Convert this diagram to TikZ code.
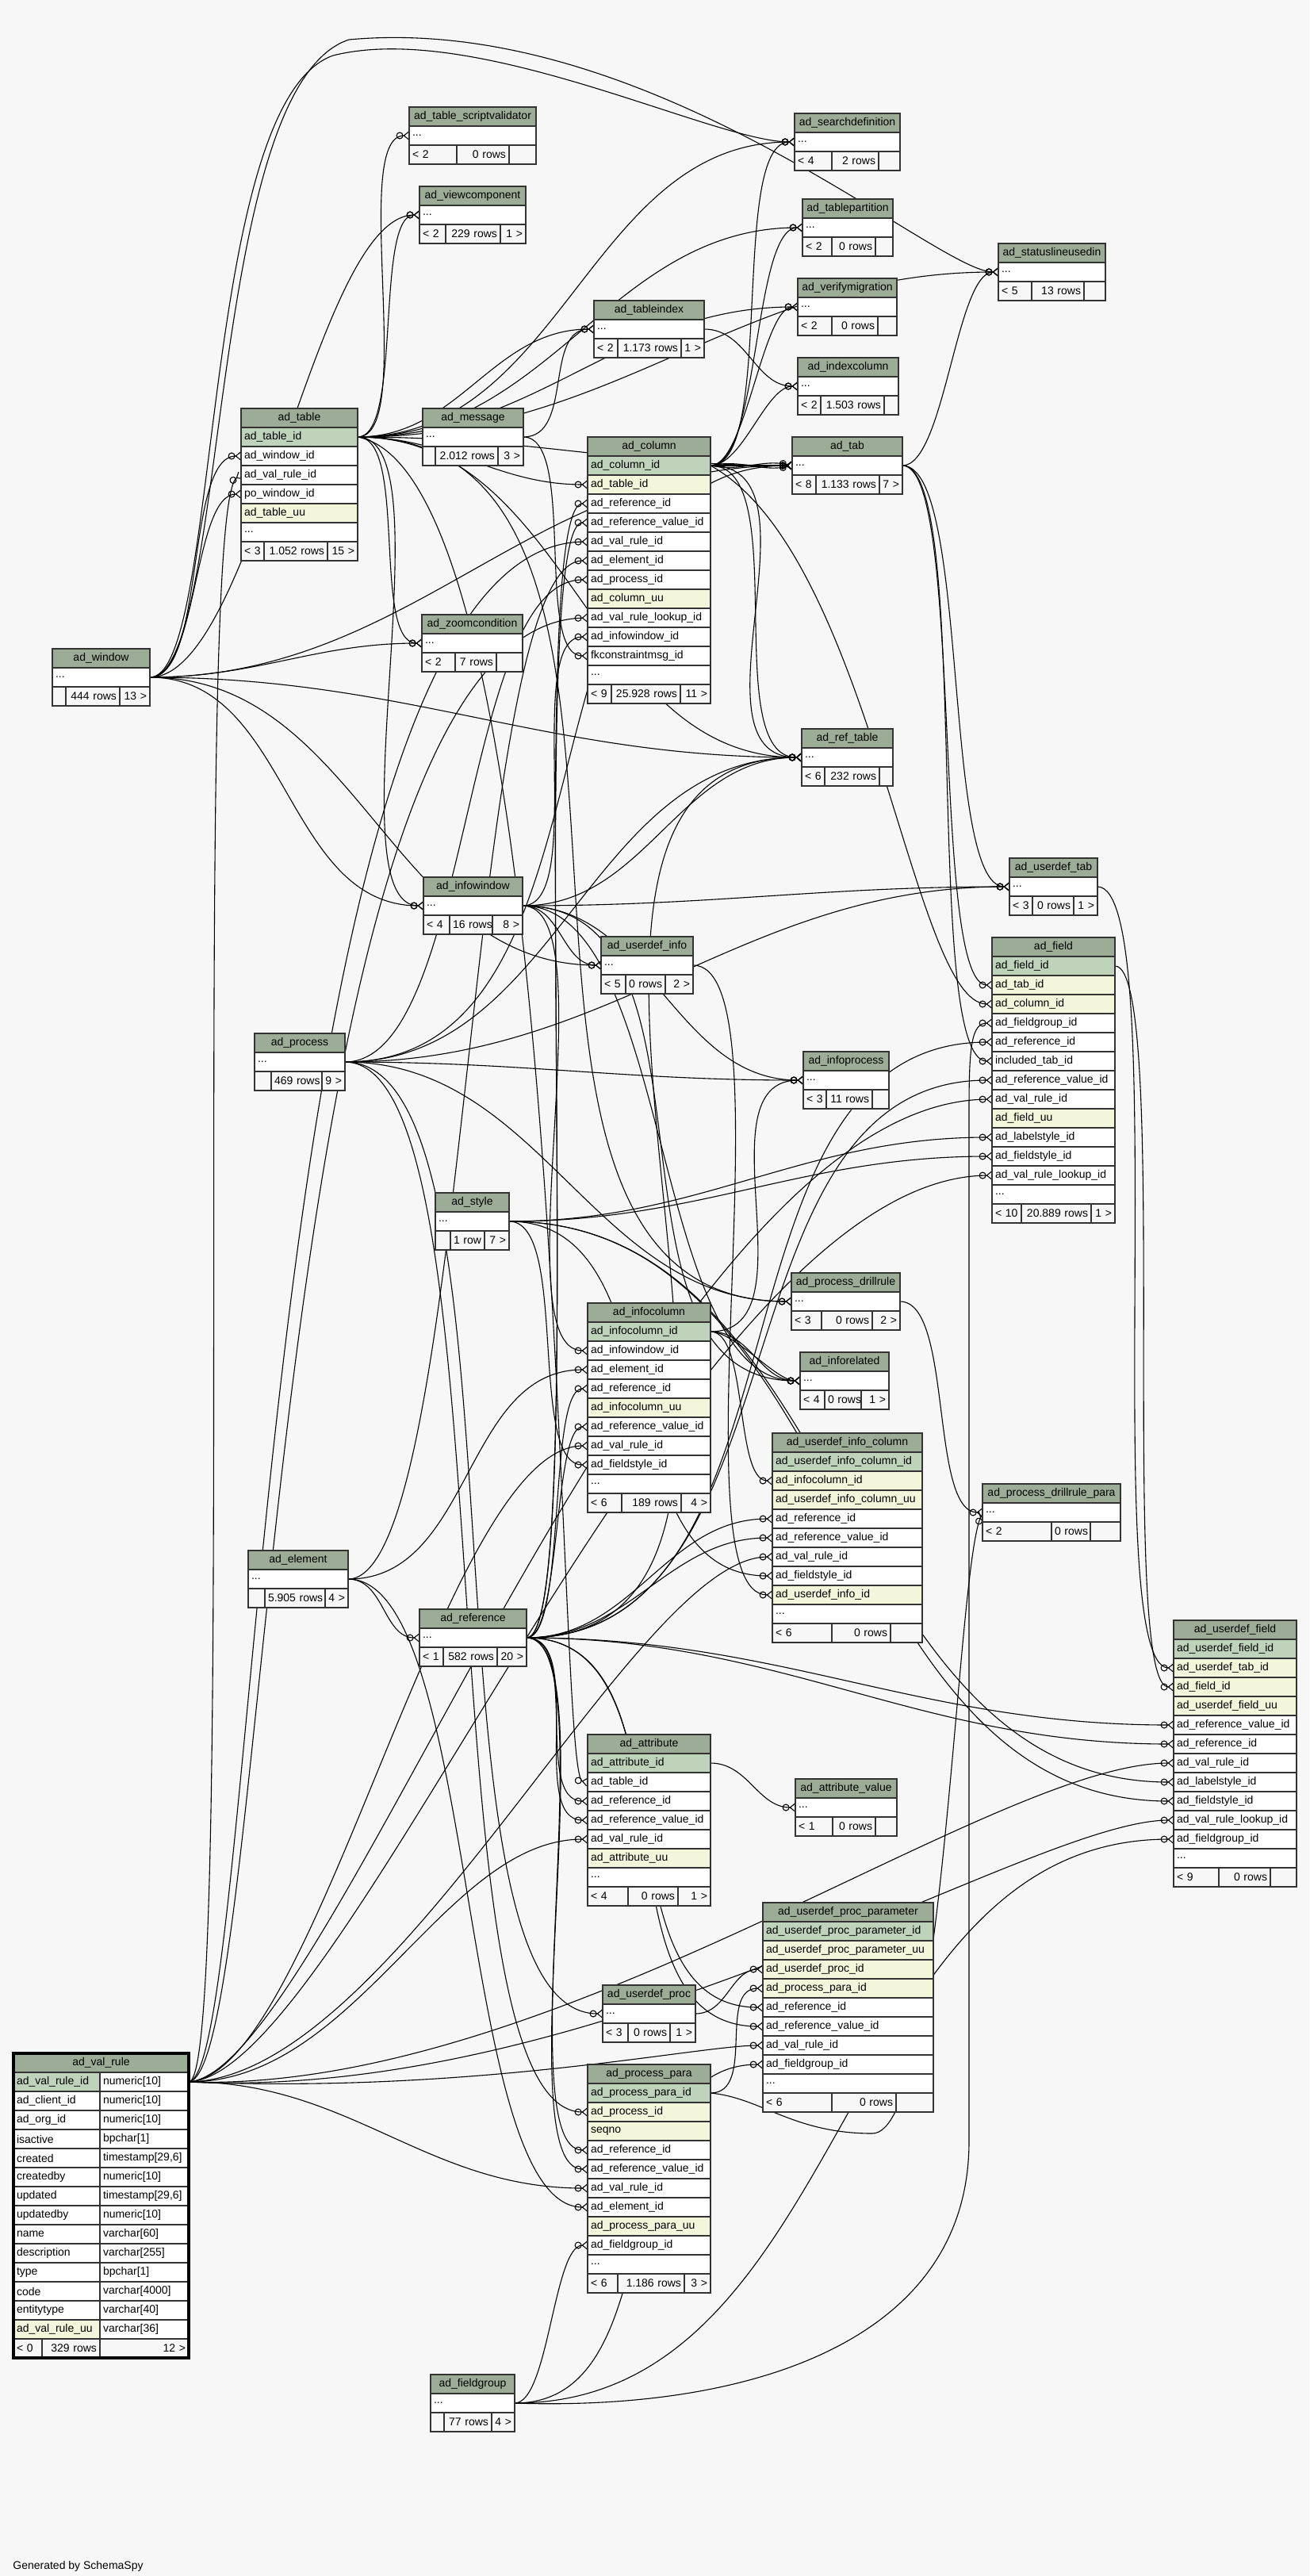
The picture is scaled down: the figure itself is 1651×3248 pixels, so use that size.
\documentclass[tikz,border=0pt]{standalone}
\usepackage{fontspec}
\setmainfont{Liberation Sans}
\usetikzlibrary{positioning,arrows.meta}

\definecolor{bgcol}{HTML}{F7F7F7}
\definecolor{hdrcol}{HTML}{9CAC97}
\definecolor{pkcol}{HTML}{BFD3BB}
\definecolor{ukcol}{HTML}{F4F6DB}
\definecolor{bordercol}{HTML}{333333}

\pgfdeclarelayer{canvas}
\pgfdeclarelayer{links}
\pgfsetlayers{canvas,links,main}

\tikzset{
  tcell/.style={draw=bordercol, line width=0.6pt, minimum height=12pt, inner xsep=2pt, inner ysep=0pt, outer sep=0pt, font=\fontsize{7}{8}\selectfont, align=left},
  hdr/.style={tcell, fill=hdrcol, align=center},
  pkrow/.style={tcell, fill=pkcol},
  ukrow/.style={tcell, fill=ukcol},
  plainrow/.style={tcell, fill=white},
  footl/.style={tcell, fill=bgcol, text width=#1},
  footr/.style={tcell, fill=bgcol, align=right, text width=#1},
  fk/.style={draw=black, line width=0.55pt, -{Circle[open,length=4.5pt,width=4.5pt] Straight Barb[reversed,length=3pt,width=5pt]}},
  link/.style={out=0, in=180, looseness=#1},
  link/.default=1,
}

\begin{document}
\begin{tikzpicture}[x=0.5pt, y=-0.5pt]
\useasboundingbox (0,0) rectangle (1651,3248);
\begin{pgfonlayer}{canvas}
\fill[bgcol] (0,0) rectangle (1651,3248);
\end{pgfonlayer}

% ad_table_scriptvalidator
\begin{scope}[every node/.append style={text width=76pt}]
\node[hdr, anchor=north west] (tsv) at (516,135) {ad\_table\_scriptvalidator};
\node[plainrow, below=0pt of tsv] (tsv-dots) {...};
\node[footl=26pt, anchor=north west] (tsv-f1) at (tsv-dots.south west) {< 2};
\node[footr=29pt, right=0pt of tsv-f1] (tsv-f2) {0~rows};
\node[footr=13pt, right=0pt of tsv-f2] (tsv-f3) {};
\end{scope}

% ad_viewcomponent
\begin{scope}[every node/.append style={text width=63pt}]
\node[hdr, anchor=north west] (vc) at (529,235) {ad\_viewcomponent};
\node[plainrow, below=0pt of vc] (vc-dots) {...};
\node[footl=12.5pt, anchor=north west] (vc-f1) at (vc-dots.south west) {< 2};
\node[footr=30.5pt, right=0pt of vc-f1] (vc-f2) {229~rows};
\node[footr=12pt, right=0pt of vc-f2] (vc-f3) {1 >};
\end{scope}

% ad_searchdefinition
\begin{scope}[every node/.append style={text width=62.5pt}]
\node[hdr, anchor=north west] (sd) at (1002,143) {ad\_searchdefinition};
\node[plainrow, below=0pt of sd] (sd-dots) {...};
\node[footl=19.5pt, anchor=north west] (sd-f1) at (sd-dots.south west) {< 4};
\node[footr=25.5pt, right=0pt of sd-f1] (sd-f2) {2~rows};
\node[footr=9.5pt, right=0pt of sd-f2] (sd-f3) {};
\end{scope}

% ad_tablepartition
\begin{scope}[every node/.append style={text width=53pt}]
\node[hdr, anchor=north west] (tp) at (1012,251) {ad\_tablepartition};
\node[plainrow, below=0pt of tp] (tp-dots) {...};
\node[footl=14.5pt, anchor=north west] (tp-f1) at (tp-dots.south west) {< 2};
\node[footr=23.5pt, right=0pt of tp-f1] (tp-f2) {0~rows};
\node[footr=7pt, right=0pt of tp-f2] (tp-f3) {};
\end{scope}

% ad_statuslineusedin
\begin{scope}[every node/.append style={text width=63.5pt}]
\node[hdr, anchor=north west] (slu) at (1259,307) {ad\_statuslineusedin};
\node[plainrow, below=0pt of slu] (slu-dots) {...};
\node[footl=17pt, anchor=north west] (slu-f1) at (slu-dots.south west) {< 5};
\node[footr=29pt, right=0pt of slu-f1] (slu-f2) {13~rows};
\node[footr=9.5pt, right=0pt of slu-f2] (slu-f3) {};
\end{scope}

% ad_verifymigration
\begin{scope}[every node/.append style={text width=58.5pt}]
\node[hdr, anchor=north west] (vm) at (1006,351) {ad\_verifymigration};
\node[plainrow, below=0pt of vm] (vm-dots) {...};
\node[footl=17.5pt, anchor=north west] (vm-f1) at (vm-dots.south west) {< 2};
\node[footr=25pt, right=0pt of vm-f1] (vm-f2) {0~rows};
\node[footr=8pt, right=0pt of vm-f2] (vm-f3) {};
\end{scope}

% ad_tableindex
\begin{scope}[every node/.append style={text width=65.5pt}]
\node[hdr, anchor=north west] (ti) at (749,379) {ad\_tableindex};
\node[plainrow, below=0pt of ti] (ti-dots) {...};
\node[footl=11pt, anchor=north west] (ti-f1) at (ti-dots.south west) {< 2};
\node[footr=36pt, right=0pt of ti-f1] (ti-f2) {1.173~rows};
\node[footr=10.5pt, right=0pt of ti-f2] (ti-f3) {1 >};
\end{scope}

% ad_indexcolumn
\begin{scope}[every node/.append style={text width=59.5pt}]
\node[hdr, anchor=north west] (ixc) at (1006,451) {ad\_indexcolumn};
\node[plainrow, below=0pt of ixc] (ixc-dots) {...};
\node[footl=10.5pt, anchor=north west] (ixc-f1) at (ixc-dots.south west) {< 2};
\node[footr=36pt, right=0pt of ixc-f1] (ixc-f2) {1.503~rows};
\node[footr=5pt, right=0pt of ixc-f2] (ixc-f3) {};
\end{scope}

% ad_message
\begin{scope}[every node/.append style={text width=59.5pt}]
\node[hdr, anchor=north west] (msg) at (533,515) {ad\_message};
\node[plainrow, below=0pt of msg] (msg-dots) {...};
\node[footl=4pt, anchor=north west] (msg-f1) at (msg-dots.south west) {};
\node[footr=35.5pt, right=0pt of msg-f1] (msg-f2) {2.012~rows};
\node[footr=12pt, right=0pt of msg-f2] (msg-f3) {3 >};
\end{scope}

% ad_tab
\begin{scope}[every node/.append style={text width=65.5pt}]
\node[hdr, anchor=north west] (tab) at (999,551) {ad\_tab};
\node[plainrow, below=0pt of tab] (tab-dots) {...};
\node[footl=11pt, anchor=north west] (tab-f1) at (tab-dots.south west) {< 8};
\node[footr=36pt, right=0pt of tab-f1] (tab-f2) {1.133~rows};
\node[footr=10.5pt, right=0pt of tab-f2] (tab-f3) {7 >};
\end{scope}

% ad_table
\begin{scope}[every node/.append style={text width=69.5pt}]
\node[hdr, anchor=north west] (tbl) at (304,515) {ad\_table};
\node[pkrow, below=0pt of tbl] (tbl-id) {ad\_table\_id};
\node[plainrow, below=0pt of tbl-id] (tbl-window) {ad\_window\_id};
\node[plainrow, below=0pt of tbl-window] (tbl-valrule) {ad\_val\_rule\_id};
\node[plainrow, below=0pt of tbl-valrule] (tbl-powindow) {po\_window\_id};
\node[ukrow, below=0pt of tbl-powindow] (tbl-uu) {ad\_table\_uu};
\node[plainrow, below=0pt of tbl-uu] (tbl-dots) {...};
\node[footl=10.5pt, anchor=north west] (tbl-f1) at (tbl-dots.south west) {< 3};
\node[footr=36pt, right=0pt of tbl-f1] (tbl-f2) {1.052~rows};
\node[footr=15pt, right=0pt of tbl-f2] (tbl-f3) {15 >};
\end{scope}

% ad_window
\begin{scope}[every node/.append style={text width=57.5pt}]
\node[hdr, anchor=north west] (win) at (66,818) {ad\_window};
\node[plainrow, below=0pt of win] (win-dots) {...};
\node[footl=4.5pt, anchor=north west] (win-f1) at (win-dots.south west) {};
\node[footr=30pt, right=0pt of win-f1] (win-f2) {444~rows};
\node[footr=15pt, right=0pt of win-f2] (win-f3) {13 >};
\end{scope}

% ad_column
\begin{scope}[every node/.append style={text width=73.5pt}]
\node[hdr, anchor=north west] (col) at (741,551) {ad\_column};
\node[pkrow, below=0pt of col] (col-id) {ad\_column\_id};
\node[ukrow, below=0pt of col-id] (col-table) {ad\_table\_id};
\node[plainrow, below=0pt of col-table] (col-reference) {ad\_reference\_id};
\node[plainrow, below=0pt of col-reference] (col-refvalue) {ad\_reference\_value\_id};
\node[plainrow, below=0pt of col-refvalue] (col-valrule) {ad\_val\_rule\_id};
\node[plainrow, below=0pt of col-valrule] (col-element) {ad\_element\_id};
\node[plainrow, below=0pt of col-element] (col-process) {ad\_process\_id};
\node[ukrow, below=0pt of col-process] (col-uu) {ad\_column\_uu};
\node[plainrow, below=0pt of col-uu] (col-vrlookup) {ad\_val\_rule\_lookup\_id};
\node[plainrow, below=0pt of col-vrlookup] (col-infowindow) {ad\_infowindow\_id};
\node[plainrow, below=0pt of col-infowindow] (col-fkmsg) {fkconstraintmsg\_id};
\node[plainrow, below=0pt of col-fkmsg] (col-dots) {...};
\node[footl=11pt, anchor=north west] (col-f1) at (col-dots.south west) {< 9};
\node[footr=39.5pt, right=0pt of col-f1] (col-f2) {25.928~rows};
\node[footr=15pt, right=0pt of col-f2] (col-f3) {11 >};
\end{scope}

% ad_zoomcondition
\begin{scope}[every node/.append style={text width=59.5pt}]
\node[hdr, anchor=north west] (zc) at (532,775) {ad\_zoomcondition};
\node[plainrow, below=0pt of zc] (zc-dots) {...};
\node[footl=17pt, anchor=north west] (zc-f1) at (zc-dots.south west) {< 2};
\node[footr=22pt, right=0pt of zc-f1] (zc-f2) {7~rows};
\node[footr=12.5pt, right=0pt of zc-f2] (zc-f3) {};
\end{scope}

% ad_ref_table
\begin{scope}[every node/.append style={text width=53.5pt}]
\node[hdr, anchor=north west] (rt) at (1011,919) {ad\_ref\_table};
\node[plainrow, below=0pt of rt] (rt-dots) {...};
\node[footl=10.5pt, anchor=north west] (rt-f1) at (rt-dots.south west) {< 6};
\node[footr=30.5pt, right=0pt of rt-f1] (rt-f2) {232~rows};
\node[footr=4.5pt, right=0pt of rt-f2] (rt-f3) {};
\end{scope}

% ad_userdef_tab
\begin{scope}[every node/.append style={text width=51.5pt}]
\node[hdr, anchor=north west] (udt) at (1273,1082) {ad\_userdef\_tab};
\node[plainrow, below=0pt of udt] (udt-dots) {...};
\node[footl=10.5pt, anchor=north west] (udt-f1) at (udt-dots.south west) {< 3};
\node[footr=22pt, right=0pt of udt-f1] (udt-f2) {0~rows};
\node[footr=11pt, right=0pt of udt-f2] (udt-f3) {1 >};
\end{scope}

% ad_infowindow
\begin{scope}[every node/.append style={text width=58.5pt}]
\node[hdr, anchor=north west] (iw) at (534,1106) {ad\_infowindow};
\node[plainrow, below=0pt of iw] (iw-dots) {...};
\node[footl=12.5pt, anchor=north west] (iw-f1) at (iw-dots.south west) {< 4};
\node[footr=23pt, right=0pt of iw-f1] (iw-f2) {16~rows};
\node[footr=15pt, right=0pt of iw-f2] (iw-f3) {8 >};
\end{scope}

% ad_userdef_info
\begin{scope}[every node/.append style={text width=54pt}]
\node[hdr, anchor=north west] (udi) at (758,1181) {ad\_userdef\_info};
\node[plainrow, below=0pt of udi] (udi-dots) {...};
\node[footl=11.5pt, anchor=north west] (udi-f1) at (udi-dots.south west) {< 5};
\node[footr=21pt, right=0pt of udi-f1] (udi-f2) {0~rows};
\node[footr=13.5pt, right=0pt of udi-f2] (udi-f3) {2 >};
\end{scope}

% ad_field
\begin{scope}[every node/.append style={text width=73.5pt}]
\node[hdr, anchor=north west] (fld) at (1251,1182) {ad\_field};
\node[pkrow, below=0pt of fld] (fld-id) {ad\_field\_id};
\node[ukrow, below=0pt of fld-id] (fld-tab) {ad\_tab\_id};
\node[ukrow, below=0pt of fld-tab] (fld-column) {ad\_column\_id};
\node[plainrow, below=0pt of fld-column] (fld-fieldgroup) {ad\_fieldgroup\_id};
\node[plainrow, below=0pt of fld-fieldgroup] (fld-reference) {ad\_reference\_id};
\node[plainrow, below=0pt of fld-reference] (fld-included) {included\_tab\_id};
\node[plainrow, below=0pt of fld-included] (fld-refvalue) {ad\_reference\_value\_id};
\node[plainrow, below=0pt of fld-refvalue] (fld-valrule) {ad\_val\_rule\_id};
\node[ukrow, below=0pt of fld-valrule] (fld-uu) {ad\_field\_uu};
\node[plainrow, below=0pt of fld-uu] (fld-labelstyle) {ad\_labelstyle\_id};
\node[plainrow, below=0pt of fld-labelstyle] (fld-fieldstyle) {ad\_fieldstyle\_id};
\node[plainrow, below=0pt of fld-fieldstyle] (fld-vrlookup) {ad\_val\_rule\_lookup\_id};
\node[plainrow, below=0pt of fld-vrlookup] (fld-dots) {...};
\node[footl=14.5pt, anchor=north west] (fld-f1) at (fld-dots.south west) {< 10};
\node[footr=40pt, right=0pt of fld-f1] (fld-f2) {20.889~rows};
\node[footr=11pt, right=0pt of fld-f2] (fld-f3) {1 >};
\end{scope}

% ad_process
\begin{scope}[every node/.append style={text width=53pt}]
\node[hdr, anchor=north west] (prc) at (321,1303) {ad\_process};
\node[plainrow, below=0pt of prc] (prc-dots) {...};
\node[footl=6.5pt, anchor=north west] (prc-f1) at (prc-dots.south west) {};
\node[footr=28pt, right=0pt of prc-f1] (prc-f2) {469~rows};
\node[footr=10.5pt, right=0pt of prc-f2] (prc-f3) {9 >};
\end{scope}

% ad_infoprocess
\begin{scope}[every node/.append style={text width=50pt}]
\node[hdr, anchor=north west] (ip) at (1013,1326) {ad\_infoprocess};
\node[plainrow, below=0pt of ip] (ip-dots) {...};
\node[footl=10.5pt, anchor=north west] (ip-f1) at (ip-dots.south west) {< 3};
\node[footr=25pt, right=0pt of ip-f1] (ip-f2) {11~rows};
\node[footr=6.5pt, right=0pt of ip-f2] (ip-f3) {};
\end{scope}

% ad_style
\begin{scope}[every node/.append style={text width=42.5pt}]
\node[hdr, anchor=north west] (sty) at (549,1504) {ad\_style};
\node[plainrow, below=0pt of sty] (sty-dots) {...};
\node[footl=5.5pt, anchor=north west] (sty-f1) at (sty-dots.south west) {};
\node[footr=17.5pt, right=0pt of sty-f1] (sty-f2) {1~row};
\node[footr=11.5pt, right=0pt of sty-f2] (sty-f3) {7 >};
\end{scope}

% ad_process_drillrule
\begin{scope}[every node/.append style={text width=64.5pt}]
\node[hdr, anchor=north west] (pdr) at (998,1605) {ad\_process\_drillrule};
\node[plainrow, below=0pt of pdr] (pdr-dots) {...};
\node[footl=15pt, anchor=north west] (pdr-f1) at (pdr-dots.south west) {< 3};
\node[footr=28pt, right=0pt of pdr-f1] (pdr-f2) {0~rows};
\node[footr=13.5pt, right=0pt of pdr-f2] (pdr-f3) {2 >};
\end{scope}

% ad_inforelated
\begin{scope}[every node/.append style={text width=52pt}]
\node[hdr, anchor=north west] (ir) at (1009,1705) {ad\_inforelated};
\node[plainrow, below=0pt of ir] (ir-dots) {...};
\node[footl=11.5pt, anchor=north west] (ir-f1) at (ir-dots.south west) {< 4};
\node[footr=19pt, right=0pt of ir-f1] (ir-f2) {0~rows};
\node[footr=13.5pt, right=0pt of ir-f2] (ir-f3) {1 >};
\end{scope}

% ad_infocolumn
\begin{scope}[every node/.append style={text width=73.5pt}]
\node[hdr, anchor=north west] (ic) at (741,1643) {ad\_infocolumn};
\node[pkrow, below=0pt of ic] (ic-id) {ad\_infocolumn\_id};
\node[plainrow, below=0pt of ic-id] (ic-infowindow) {ad\_infowindow\_id};
\node[plainrow, below=0pt of ic-infowindow] (ic-element) {ad\_element\_id};
\node[plainrow, below=0pt of ic-element] (ic-reference) {ad\_reference\_id};
\node[ukrow, below=0pt of ic-reference] (ic-uu) {ad\_infocolumn\_uu};
\node[plainrow, below=0pt of ic-uu] (ic-refvalue) {ad\_reference\_value\_id};
\node[plainrow, below=0pt of ic-refvalue] (ic-valrule) {ad\_val\_rule\_id};
\node[plainrow, below=0pt of ic-valrule] (ic-fieldstyle) {ad\_fieldstyle\_id};
\node[plainrow, below=0pt of ic-fieldstyle] (ic-dots) {...};
\node[footl=17.5pt, anchor=north west] (ic-f1) at (ic-dots.south west) {< 6};
\node[footr=33.5pt, right=0pt of ic-f1] (ic-f2) {189~rows};
\node[footr=14.5pt, right=0pt of ic-f2] (ic-f3) {4 >};
\end{scope}

% ad_userdef_info_column
\begin{scope}[every node/.append style={text width=90.5pt}]
\node[hdr, anchor=north west] (uic) at (974,1807) {ad\_userdef\_info\_column};
\node[pkrow, below=0pt of uic] (uic-id) {ad\_userdef\_info\_column\_id};
\node[ukrow, below=0pt of uic-id] (uic-infocolumn) {ad\_infocolumn\_id};
\node[ukrow, below=0pt of uic-infocolumn] (uic-uu) {ad\_userdef\_info\_column\_uu};
\node[plainrow, below=0pt of uic-uu] (uic-reference) {ad\_reference\_id};
\node[plainrow, below=0pt of uic-reference] (uic-refvalue) {ad\_reference\_value\_id};
\node[plainrow, below=0pt of uic-refvalue] (uic-valrule) {ad\_val\_rule\_id};
\node[plainrow, below=0pt of uic-valrule] (uic-fieldstyle) {ad\_fieldstyle\_id};
\node[ukrow, below=0pt of uic-fieldstyle] (uic-udinfo) {ad\_userdef\_info\_id};
\node[plainrow, below=0pt of uic-udinfo] (uic-dots) {...};
\node[footl=33.5pt, anchor=north west] (uic-f1) at (uic-dots.south west) {< 6};
\node[footr=33pt, right=0pt of uic-f1] (uic-f2) {0~rows};
\node[footr=16pt, right=0pt of uic-f2] (uic-f3) {};
\end{scope}

% ad_process_drillrule_para
\begin{scope}[every node/.append style={text width=83pt}]
\node[hdr, anchor=north west] (pdrp) at (1239,1871) {ad\_process\_drillrule\_para};
\node[plainrow, below=0pt of pdrp] (pdrp-dots) {...};
\node[footl=39.5pt, anchor=north west] (pdrp-f1) at (pdrp-dots.south west) {< 2};
\node[footr=20.5pt, right=0pt of pdrp-f1] (pdrp-f2) {0~rows};
\node[footr=15pt, right=0pt of pdrp-f2] (pdrp-f3) {};
\end{scope}

% ad_element
\begin{scope}[every node/.append style={text width=59pt}]
\node[hdr, anchor=north west] (elm) at (313,1955) {ad\_element};
\node[plainrow, below=0pt of elm] (elm-dots) {...};
\node[footl=6.5pt, anchor=north west] (elm-f1) at (elm-dots.south west) {};
\node[footr=34pt, right=0pt of elm-f1] (elm-f2) {5.905~rows};
\node[footr=10.5pt, right=0pt of elm-f2] (elm-f3) {4 >};
\end{scope}

% ad_reference
\begin{scope}[every node/.append style={text width=63.5pt}]
\node[hdr, anchor=north west] (ref) at (529,2029) {ad\_reference};
\node[plainrow, below=0pt of ref] (ref-dots) {...};
\node[footl=11pt, anchor=north west] (ref-f1) at (ref-dots.south west) {< 1};
\node[footr=30pt, right=0pt of ref-f1] (ref-f2) {582~rows};
\node[footr=14.5pt, right=0pt of ref-f2] (ref-f3) {20 >};
\end{scope}

% ad_userdef_field
\begin{scope}[every node/.append style={text width=73.5pt}]
\node[hdr, anchor=north west] (udf) at (1480,2043) {ad\_userdef\_field};
\node[pkrow, below=0pt of udf] (udf-id) {ad\_userdef\_field\_id};
\node[ukrow, below=0pt of udf-id] (udf-udtab) {ad\_userdef\_tab\_id};
\node[ukrow, below=0pt of udf-udtab] (udf-field) {ad\_field\_id};
\node[ukrow, below=0pt of udf-field] (udf-uu) {ad\_userdef\_field\_uu};
\node[plainrow, below=0pt of udf-uu] (udf-refvalue) {ad\_reference\_value\_id};
\node[plainrow, below=0pt of udf-refvalue] (udf-reference) {ad\_reference\_id};
\node[plainrow, below=0pt of udf-reference] (udf-valrule) {ad\_val\_rule\_id};
\node[plainrow, below=0pt of udf-valrule] (udf-labelstyle) {ad\_labelstyle\_id};
\node[plainrow, below=0pt of udf-labelstyle] (udf-fieldstyle) {ad\_fieldstyle\_id};
\node[plainrow, below=0pt of udf-fieldstyle] (udf-vrlookup) {ad\_val\_rule\_lookup\_id};
\node[plainrow, below=0pt of udf-vrlookup] (udf-fieldgroup) {ad\_fieldgroup\_id};
\node[plainrow, below=0pt of udf-fieldgroup] (udf-dots) {...};
\node[footl=24.5pt, anchor=north west] (udf-f1) at (udf-dots.south west) {< 9};
\node[footr=28.5pt, right=0pt of udf-f1] (udf-f2) {0~rows};
\node[footr=12.5pt, right=0pt of udf-f2] (udf-f3) {};
\end{scope}

% ad_attribute
\begin{scope}[every node/.append style={text width=73.5pt}]
\node[hdr, anchor=north west] (att) at (741,2187) {ad\_attribute};
\node[pkrow, below=0pt of att] (att-id) {ad\_attribute\_id};
\node[plainrow, below=0pt of att-id] (att-table) {ad\_table\_id};
\node[plainrow, below=0pt of att-table] (att-reference) {ad\_reference\_id};
\node[plainrow, below=0pt of att-reference] (att-refvalue) {ad\_reference\_value\_id};
\node[plainrow, below=0pt of att-refvalue] (att-valrule) {ad\_val\_rule\_id};
\node[ukrow, below=0pt of att-valrule] (att-uu) {ad\_attribute\_uu};
\node[plainrow, below=0pt of att-uu] (att-dots) {...};
\node[footl=21.5pt, anchor=north west] (att-f1) at (att-dots.south west) {< 4};
\node[footr=27.5pt, right=0pt of att-f1] (att-f2) {0~rows};
\node[footr=16.5pt, right=0pt of att-f2] (att-f3) {1 >};
\end{scope}

% ad_attribute_value
\begin{scope}[every node/.append style={text width=60pt}]
\node[hdr, anchor=north west] (av) at (1003,2243) {ad\_attribute\_value};
\node[plainrow, below=0pt of av] (av-dots) {...};
\node[footl=19.5pt, anchor=north west] (av-f1) at (av-dots.south west) {< 1};
\node[footr=23pt, right=0pt of av-f1] (av-f2) {0~rows};
\node[footr=9.5pt, right=0pt of av-f2] (av-f3) {};
\end{scope}

% ad_userdef_proc_parameter
\begin{scope}[every node/.append style={text width=103.5pt}]
\node[hdr, anchor=north west] (upp) at (962,2399) {ad\_userdef\_proc\_parameter};
\node[pkrow, below=0pt of upp] (upp-id) {ad\_userdef\_proc\_parameter\_id};
\node[ukrow, below=0pt of upp-id] (upp-uu) {ad\_userdef\_proc\_parameter\_uu};
\node[ukrow, below=0pt of upp-uu] (upp-udproc) {ad\_userdef\_proc\_id};
\node[ukrow, below=0pt of upp-udproc] (upp-procpara) {ad\_process\_para\_id};
\node[plainrow, below=0pt of upp-procpara] (upp-reference) {ad\_reference\_id};
\node[plainrow, below=0pt of upp-reference] (upp-refvalue) {ad\_reference\_value\_id};
\node[plainrow, below=0pt of upp-refvalue] (upp-valrule) {ad\_val\_rule\_id};
\node[plainrow, below=0pt of upp-valrule] (upp-fieldgroup) {ad\_fieldgroup\_id};
\node[plainrow, below=0pt of upp-fieldgroup] (upp-dots) {...};
\node[footl=39.5pt, anchor=north west] (upp-f1) at (upp-dots.south west) {< 6};
\node[footr=36.5pt, right=0pt of upp-f1] (upp-f2) {0~rows};
\node[footr=19.5pt, right=0pt of upp-f2] (upp-f3) {};
\end{scope}

% ad_userdef_proc
\begin{scope}[every node/.append style={text width=54.5pt}]
\node[hdr, anchor=north west] (udp) at (760,2503) {ad\_userdef\_proc};
\node[plainrow, below=0pt of udp] (udp-dots) {...};
\node[footl=12pt, anchor=north west] (udp-f1) at (udp-dots.south west) {< 3};
\node[footr=22.5pt, right=0pt of udp-f1] (udp-f2) {0~rows};
\node[footr=12pt, right=0pt of udp-f2] (udp-f3) {1 >};
\end{scope}

% ad_process_para
\begin{scope}[every node/.append style={text width=73.5pt}]
\node[hdr, anchor=north west] (pp) at (741,2603) {ad\_process\_para};
\node[pkrow, below=0pt of pp] (pp-id) {ad\_process\_para\_id};
\node[ukrow, below=0pt of pp-id] (pp-process) {ad\_process\_id};
\node[ukrow, below=0pt of pp-process] (pp-seqno) {seqno};
\node[plainrow, below=0pt of pp-seqno] (pp-reference) {ad\_reference\_id};
\node[plainrow, below=0pt of pp-reference] (pp-refvalue) {ad\_reference\_value\_id};
\node[plainrow, below=0pt of pp-refvalue] (pp-valrule) {ad\_val\_rule\_id};
\node[plainrow, below=0pt of pp-valrule] (pp-element) {ad\_element\_id};
\node[ukrow, below=0pt of pp-element] (pp-uu) {ad\_process\_para\_uu};
\node[plainrow, below=0pt of pp-uu] (pp-fieldgroup) {ad\_fieldgroup\_id};
\node[plainrow, below=0pt of pp-fieldgroup] (pp-dots) {...};
\node[footl=15pt, anchor=north west] (pp-f1) at (pp-dots.south west) {< 6};
\node[footr=38pt, right=0pt of pp-f1] (pp-f2) {1.186~rows};
\node[footr=12.5pt, right=0pt of pp-f2] (pp-f3) {3 >};
\end{scope}

% ad_fieldgroup
\begin{scope}[every node/.append style={text width=49pt}]
\node[hdr, anchor=north west] (fg) at (543,2994) {ad\_fieldgroup};
\node[plainrow, below=0pt of fg] (fg-dots) {...};
\node[footl=4.5pt, anchor=north west] (fg-f1) at (fg-dots.south west) {};
\node[footr=26pt, right=0pt of fg-f1] (fg-f2) {77~rows};
\node[footr=10.5pt, right=0pt of fg-f2] (fg-f3) {4 >};
\end{scope}

% ad_val_rule
\node[hdr, text width=106.5pt, anchor=north west] (vr) at (17,2589) {ad\_val\_rule};
\begin{scope}[every node/.append style={text width=50.5pt}]
\node[pkrow, anchor=north west] (vr-id) at (vr.south west) {ad\_val\_rule\_id};
\node[plainrow, below=0pt of vr-id] (vr-client) {ad\_client\_id};
\node[plainrow, below=0pt of vr-client] (vr-org) {ad\_org\_id};
\node[plainrow, below=0pt of vr-org] (vr-active) {isactive};
\node[plainrow, below=0pt of vr-active] (vr-created) {created};
\node[plainrow, below=0pt of vr-created] (vr-createdby) {createdby};
\node[plainrow, below=0pt of vr-createdby] (vr-updated) {updated};
\node[plainrow, below=0pt of vr-updated] (vr-updatedby) {updatedby};
\node[plainrow, below=0pt of vr-updatedby] (vr-name) {name};
\node[plainrow, below=0pt of vr-name] (vr-descr) {description};
\node[plainrow, below=0pt of vr-descr] (vr-type) {type};
\node[plainrow, below=0pt of vr-type] (vr-code) {code};
\node[plainrow, below=0pt of vr-code] (vr-entity) {entitytype};
\node[ukrow, below=0pt of vr-entity] (vr-uu) {ad\_val\_rule\_uu};
\end{scope}
\begin{scope}[every node/.append style={text width=52pt}]
\node[plainrow, right=0pt of vr-id] (vr-id-t) {numeric[10]};
\node[plainrow, right=0pt of vr-client] (vr-client-t) {numeric[10]};
\node[plainrow, right=0pt of vr-org] (vr-org-t) {numeric[10]};
\node[plainrow, right=0pt of vr-active] (vr-active-t) {bpchar[1]};
\node[plainrow, right=0pt of vr-created] (vr-created-t) {timestamp[29,6]};
\node[plainrow, right=0pt of vr-createdby] (vr-createdby-t) {numeric[10]};
\node[plainrow, right=0pt of vr-updated] (vr-updated-t) {timestamp[29,6]};
\node[plainrow, right=0pt of vr-updatedby] (vr-updatedby-t) {numeric[10]};
\node[plainrow, right=0pt of vr-name] (vr-name-t) {varchar[60]};
\node[plainrow, right=0pt of vr-descr] (vr-descr-t) {varchar[255]};
\node[plainrow, right=0pt of vr-type] (vr-type-t) {bpchar[1]};
\node[plainrow, right=0pt of vr-code] (vr-code-t) {varchar[4000]};
\node[plainrow, right=0pt of vr-entity] (vr-entity-t) {varchar[40]};
\node[plainrow, right=0pt of vr-uu] (vr-uu-t) {varchar[36]};
\end{scope}
\node[footl=14pt, anchor=north west] (vr-f1) at (vr-uu.south west) {< 0};
\node[footr=32.5pt, right=0pt of vr-f1] (vr-f2) {329~rows};
\node[footr=52pt, right=0pt of vr-f2] (vr-f3) {12 >};
\draw[line width=2pt] (vr.north west) rectangle (vr-f3.south east);

\node[font=\fontsize{7}{8}\selectfont, anchor=west, inner sep=0pt] (credit) at (16,3236) {Generated by SchemaSpy};

\begin{pgfonlayer}{links}
% ad_val_rule
\draw[fk] (vr-id-t.east) .. controls (300,2625) and (240,640) .. (tbl-valrule.west);
\draw[fk] (vr-id-t.east) .. controls (330,2610) and (320,690) .. (col-valrule.west);
\draw[fk] (vr-id-t.east) .. controls (345,2610) and (330,790) .. (col-vrlookup.west);
\draw[fk] (vr-id-t.east) .. controls (420,2610) and (820,1390) .. (fld-valrule.west);
\draw[fk] (vr-id-t.east) .. controls (440,2615) and (860,1485) .. (fld-vrlookup.west);
\draw[fk] (vr-id-t.east) .. controls (400,2615) and (560,1823) .. (ic-valrule.west);
\draw[fk] (vr-id-t.east) .. controls (450,2625) and (560,2319) .. (att-valrule.west);
\draw[fk] (vr-id-t.east) to[link] (pp-valrule.west);
\draw[fk] (vr-id-t.east) .. controls (600,2640) and (880,2579) .. (upp-valrule.west);
\draw[fk] (vr-id-t.east) .. controls (500,2620) and (800,1963) .. (uic-valrule.west);
\draw[fk] (vr-id-t.east) .. controls (700,2640) and (1250,2223) .. (udf-valrule.west);
\draw[fk] (vr-id-t.east) .. controls (760,2650) and (1300,2295) .. (udf-vrlookup.west);
% ad_window
\draw[fk] (win-dots.east) to[link=0.6] (tbl-window.west);
\draw[fk] (win-dots.east) to[link=0.6] (tbl-powindow.west);
\draw[fk] (win-dots.east) to[link] (zc-dots.west);
\draw[fk] (win-dots.east) to[link] (rt-dots.west);
\draw[fk] (win-dots.east) to[link] (iw-dots.west);
\draw[fk] (win-dots.east) to[link] (udi-dots.west);
\draw[fk] (win-dots.east) to[link] (tab-dots.west);
\draw[fk] (win-dots.east) to[link=0.5] (vc-dots.west);
\draw[fk] (win-dots.east) .. controls (280,854) and (250,130) .. (420,70) .. controls (600,25) and (900,179) .. (sd-dots.west);
\draw[fk] (win-dots.east) .. controls (290,854) and (258,110) .. (440,50) .. controls (820,15) and (1180,343) .. (slu-dots.west);
% ad_table
\draw[fk] (tbl-id.east) to[link=0.5] (tsv-dots.west);
\draw[fk] (tbl-id.east) to[link=0.5] (vc-dots.west);
\draw[fk] (tbl-id.east) to[link] (sd-dots.west);
\draw[fk] (tbl-id.east) to[link] (tp-dots.west);
\draw[fk] (tbl-id.east) to[link] (vm-dots.west);
\draw[fk] (tbl-id.east) to[link] (ti-dots.west);
\draw[fk] (tbl-id.east) to[link] (tab-dots.west);
\draw[fk] (tbl-id.east) to[link] (col-table.west);
\draw[fk] (tbl-id.east) to[link] (rt-dots.west);
\draw[fk] (tbl-id.east) to[link=0.6] (zc-dots.west);
\draw[fk] (tbl-id.east) to[link=0.5] (iw-dots.west);
\draw[fk] (tbl-id.east) to[link] (slu-dots.west);
\draw[fk] (tbl-id.east) .. controls (720,600) and (700,2240) .. (att-table.west);
\draw[fk] (tbl-id.east) to[link] (pdr-dots.west);
% ad_column
\draw[fk] (col-id.east) to[link] (tab-dots.west);
\draw[fk] (col-id.east) to[out=12,in=192] (tab-dots.west);
\draw[fk] (col-id.east) to[out=-12,in=168] (tab-dots.west);
\draw[fk] (col-id.east) to[link] (rt-dots.west);
\draw[fk] (col-id.east) to[link=0.7] (rt-dots.west);
\draw[fk] (col-id.east) to[link=0.5] (sd-dots.west);
\draw[fk] (col-id.east) to[link=0.5] (tp-dots.west);
\draw[fk] (col-id.east) to[link=0.5] (vm-dots.west);
\draw[fk] (col-id.east) to[link=0.7] (ixc-dots.west);
\draw[fk] (col-id.east) .. controls (1100,700) and (1150,1266) .. (fld-column.west);
% ad_tab
\draw[fk] (tab-dots.east) to[link=0.3] (fld-tab.west);
\draw[fk] (tab-dots.east) to[link=0.3] (fld-included.west);
\draw[fk] (tab-dots.east) to[link=0.4] (udt-dots.west);
\draw[fk] (tab-dots.east) to[link=0.5] (slu-dots.west);
% ad_userdef_tab, ad_field
\draw[fk] (udt-dots.east) to[link=0.25] (udf-udtab.west);
\draw[fk] (fld-id.east) to[link=0.2] (udf-field.west);
% ad_reference
\draw[fk] (ref-dots.east) to[link=0.15] (col-reference.west);
\draw[fk] (ref-dots.east) to[link=0.15] (col-refvalue.west);
\draw[fk] (ref-dots.east) to[link=0.4] (ic-reference.west);
\draw[fk] (ref-dots.east) to[link=0.4] (ic-refvalue.west);
\draw[fk] (ref-dots.east) to[link=0.8] (att-reference.west);
\draw[fk] (ref-dots.east) to[link=0.8] (att-refvalue.west);
\draw[fk] (ref-dots.east) to[link=0.4] (pp-reference.west);
\draw[fk] (ref-dots.east) to[link=0.4] (pp-refvalue.west);
\draw[fk] (ref-dots.east) to[link] (uic-reference.west);
\draw[fk] (ref-dots.east) to[link] (uic-refvalue.west);
\draw[fk] (ref-dots.east) to[link] (upp-reference.west);
\draw[fk] (ref-dots.east) to[link] (upp-refvalue.west);
\draw[fk] (ref-dots.east) to[link] (fld-reference.west);
\draw[fk] (ref-dots.east) to[link] (fld-refvalue.west);
\draw[fk] (ref-dots.east) to[link] (udf-refvalue.west);
\draw[fk] (ref-dots.east) to[link] (udf-reference.west);
\draw[fk] (ref-dots.east) to[link] (rt-dots.west);
% ad_element
\draw[fk] (elm-dots.east) to[link=0.3] (col-element.west);
\draw[fk] (elm-dots.east) to[link] (ic-element.west);
\draw[fk] (elm-dots.east) to[link=0.5] (pp-element.west);
\draw[fk] (elm-dots.east) to[link] (ref-dots.west);
% ad_style
\draw[fk] (sty-dots.east) to[link] (fld-labelstyle.west);
\draw[fk] (sty-dots.east) to[link] (fld-fieldstyle.west);
\draw[fk] (sty-dots.east) to[link] (udf-labelstyle.west);
\draw[fk] (sty-dots.east) to[link] (udf-fieldstyle.west);
\draw[fk] (sty-dots.east) to[link=0.6] (ic-fieldstyle.west);
\draw[fk] (sty-dots.east) to[link] (uic-fieldstyle.west);
% ad_fieldgroup
\draw[fk] (fg-dots.east) to[link=0.5] (pp-fieldgroup.west);
\draw[fk] (fg-dots.east) to[link] (upp-fieldgroup.west);
\draw[fk] (fg-dots.east) to[link] (udf-fieldgroup.west);
\draw[fk] (fg-dots.east) .. controls (950,3040) and (1222,2950) .. (1222,2700) -- (1222,1400) .. controls (1222,1320) and (1225,1290) .. (fld-fieldgroup.west);
% ad_process
\draw[fk] (prc-dots.east) to[link=0.6] (col-process.west);
\draw[fk] (prc-dots.east) to[link] (tab-dots.west);
\draw[fk] (prc-dots.east) to[link] (udt-dots.west);
\draw[fk] (prc-dots.east) to[link] (ip-dots.west);
\draw[fk] (prc-dots.east) to[link] (pdr-dots.west);
\draw[fk] (prc-dots.east) to[link=0.5] (udp-dots.west);
\draw[fk] (prc-dots.east) to[link=0.4] (pp-process.west);
\draw[fk] (prc-dots.east) to[link] (rt-dots.west);
% ad_infowindow
\draw[fk] (iw-dots.east) to[link=0.6] (col-infowindow.west);
\draw[fk] (iw-dots.east) to[link=0.5] (ic-infowindow.west);
\draw[fk] (iw-dots.east) to[link] (udi-dots.west);
\draw[fk] (iw-dots.east) to[link] (ip-dots.west);
\draw[fk] (iw-dots.east) to[link] (ir-dots.west);
\draw[fk] (iw-dots.east) to[link=0.7] (ir-dots.west);
\draw[fk] (iw-dots.east) to[link] (rt-dots.west);
\draw[fk] (iw-dots.east) to[link] (udt-dots.west);
% ad_infocolumn
\draw[fk] (ic-id.east) to[link=0.6] (uic-infocolumn.west);
\draw[fk] (ic-id.east) to[link] (ir-dots.west);
\draw[fk] (ic-id.east) to[link=0.6] (ir-dots.west);
\draw[fk] (ic-id.east) to[link] (ip-dots.west);
% the rest
\draw[fk] (udi-dots.east) to[link=0.4] (uic-udinfo.west);
\draw[fk] (msg-dots.east) to[link] (ti-dots.west);
\draw[fk] (msg-dots.east) to[link=0.6] (col-fkmsg.west);
\draw[fk] (ti-dots.east) to[link] (ixc-dots.west);
\draw[fk] (att-id.east) to[link] (av-dots.west);
\draw[fk] (pp-id.east) to[link] (upp-procpara.west);
\draw[fk] (pp-id.east) .. controls (960,2645) and (1000,2690) .. (1100,2690) .. controls (1190,2690) and (1205,1990) .. (pdrp-dots.west);
\draw[fk] (pdr-dots.east) to[link=0.6] (pdrp-dots.west);
\draw[fk] (udp-dots.east) to[link] (upp-udproc.west);
\end{pgfonlayer}
\end{tikzpicture}
\end{document}
